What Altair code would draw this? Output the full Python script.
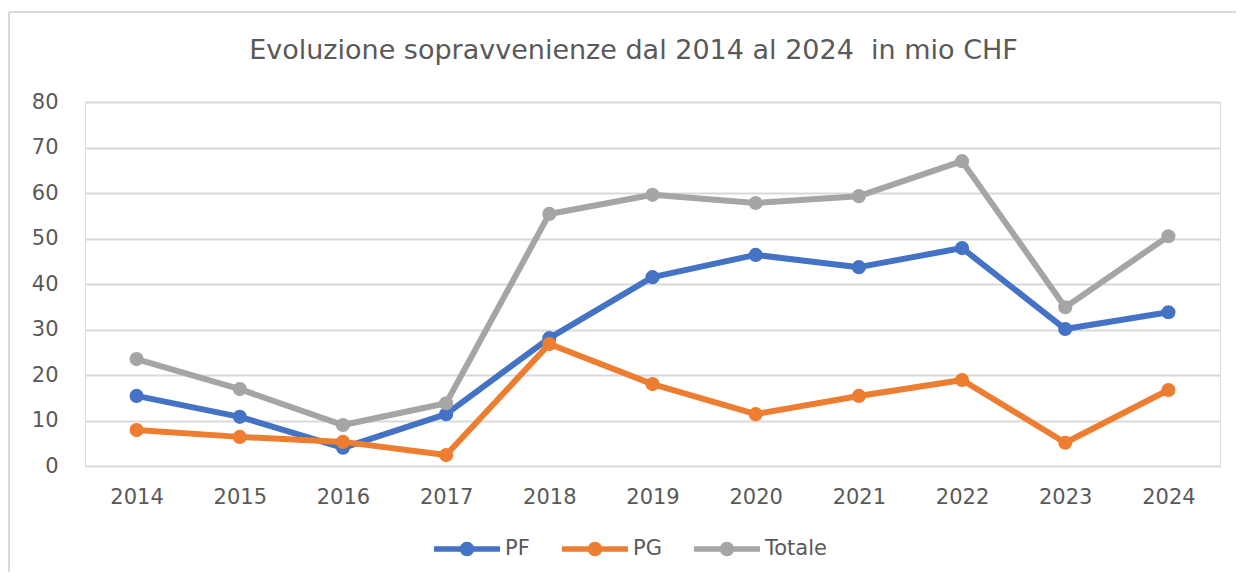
import altair as alt
import pandas as pd

years = [2014, 2015, 2016, 2017, 2018, 2019, 2020, 2021, 2022, 2023, 2024]
pf = [15.4, 10.8, 4.0, 11.4, 28.1, 41.5, 46.4, 43.7, 47.9, 30.1, 33.8]
pg = [7.9, 6.4, 5.3, 2.4, 26.8, 18.0, 11.4, 15.4, 18.9, 5.1, 16.7]
totale = [23.5, 16.9, 9.0, 13.8, 55.4, 59.6, 57.8, 59.3, 67.0, 34.9, 50.5]
series_names = ["PF", "PG", "Totale"]
series_colors = ["#4472C4", "#ED7D31", "#A5A5A5"]
title_text = "Evoluzione sopravvenienze dal 2014 al 2024\u00a0 in mio CHF"

rows = []
for name, vals in zip(series_names, [pf, pg, totale]):
    for y, v in zip(years, vals):
        rows.append({"Anno": str(y), "Valore": v, "Serie": name})
df = pd.DataFrame(rows)

FONT = "DejaVu Sans"
TXT = "#595959"

x = alt.X("Anno:N", title=None, sort=[str(y) for y in years],
          scale=alt.Scale(paddingInner=0, paddingOuter=0),
          axis=alt.Axis(labelAngle=0, ticks=False, domain=False,
                        labelPadding=20, labelFontSize=21, labelColor=TXT,
                        labelFont=FONT))
y = alt.Y("Valore:Q", title=None,
          scale=alt.Scale(domain=[0, 80], nice=False),
          axis=alt.Axis(values=[0, 10, 20, 30, 40, 50, 60, 70, 80],
                        ticks=False, domain=False, labelPadding=27,
                        labelFontSize=21, labelColor=TXT, labelFont=FONT,
                        gridColor="#D9D9D9", gridWidth=2))
color_scale = alt.Scale(domain=series_names, range=series_colors)

legend_path = ("M-1,-0.08L1,-0.08L1,0.08L-1,0.08Z "
               "M0.22,0A0.22,0.22,0,1,1,-0.22,0A0.22,0.22,0,1,1,0.22,0Z")

base = alt.Chart(df)
lines = base.mark_line(strokeWidth=6, strokeCap="round", strokeJoin="round").encode(
    x=x, y=y,
    stroke=alt.Stroke("Serie:N", scale=color_scale, legend=None),
    detail="Serie:N",
)
points = base.mark_point(filled=True, size=200, opacity=1).encode(
    x=x, y=y,
    color=alt.Color("Serie:N", scale=color_scale,
                    legend=alt.Legend(title=None, orient="none",
                                      direction="horizontal",
                                      legendX=349, legendY=414,
                                      symbolType=legend_path,
                                      symbolSize=4356, symbolStrokeWidth=0,
                                      symbolOpacity=1,
                                      labelFontSize=21, labelColor=TXT,
                                      labelFont=FONT, labelOffset=5,
                                      columnPadding=32, padding=0)),
)

frame_df = pd.DataFrame({"k": [0]})
frame_top = alt.Chart(frame_df).mark_rule(color="#D9D9D9", strokeWidth=2).encode(
    x=alt.value(-76), x2=alt.value(1160), y=alt.value(-90))
frame_left = alt.Chart(frame_df).mark_rule(color="#D9D9D9", strokeWidth=2).encode(
    x=alt.value(-76), y=alt.value(-90), y2=alt.value(480))

chart = alt.layer(frame_top, frame_left, lines, points).properties(
    width=1135, height=364,
    title=alt.TitleParams(title_text, font=FONT, fontSize=27,
                          fontWeight="normal", color=TXT, anchor="middle",
                          frame="group", dx=-19, offset=-54),
    autosize=alt.AutoSizeParams(type="none"),
    padding={"left": 77, "top": 94, "right": 16, "bottom": 106},
).resolve_scale(color="independent").configure_view(stroke=None).configure(background="white")

chart.save("out.html", embed_options={"renderer": "svg", "actions": False})
